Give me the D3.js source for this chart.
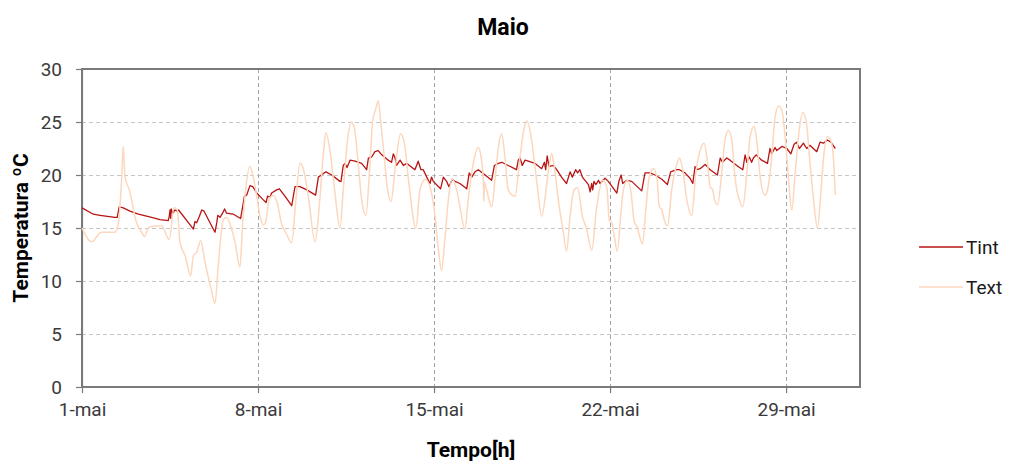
<!DOCTYPE html>
<html>
<head>
<meta charset="utf-8">
<script src="https://cdn.jsdelivr.net/npm/d3@7"></script>
<style>
  html, body { margin: 0; padding: 0; background: #fff; }
  svg { display: block; font-family: Roboto, "Liberation Sans", Arial, sans-serif; }
</style>
</head>
<body>
<svg id="chart" width="1011" height="465"></svg>
<script>
// Temperatures for May: [day offset from 1 May 00:00, °C]
const tintSeries = [
  [0.00,16.9],[0.45,16.3],[0.72,16.2],[1.31,16.0],[1.40,16.0],[1.48,17.0],[1.64,16.9],[1.91,16.6],
  [2.24,16.3],[2.77,16.0],[3.10,15.8],[3.43,15.7],[3.47,16.1],[3.50,16.7],[3.53,15.9],[3.55,16.8],
  [3.61,16.4],[3.70,16.7],[3.77,16.6],[3.84,16.7],[4.30,15.3],[4.43,14.9],[4.49,15.6],[4.56,15.5],
  [4.67,16.1],[4.76,16.7],[4.85,16.6],[5.09,15.5],[5.29,14.6],[5.36,15.5],[5.40,16.2],[5.49,16.0],
  [5.59,16.4],[5.67,16.8],[5.75,16.4],[6.02,16.3],[6.31,15.9],[6.46,18.0],[6.55,18.1],[6.62,18.6],
  [6.68,19.0],[6.79,18.9],[6.95,18.3],[7.19,17.7],[7.32,17.4],[7.38,18.0],[7.48,17.9],[7.54,18.3],
  [7.74,18.6],[7.85,18.7],[8.07,18.0],[8.34,17.1],[8.47,18.9],[8.67,18.9],[8.94,18.6],[9.29,18.1],
  [9.40,19.8],[9.70,20.3],[9.93,20.0],[10.26,19.4],[10.30,19.4],[10.39,20.9],[10.46,21.1],[10.54,20.7],
  [10.66,21.4],[10.86,21.3],[11.12,21.1],[11.32,20.5],[11.39,21.6],[11.52,21.7],[11.65,22.2],[11.78,22.3],
  [11.92,21.9],[12.18,21.4],[12.31,21.2],[12.38,22.0],[12.45,21.6],[12.51,20.9],[12.65,21.4],[12.78,20.9],
  [12.91,21.1],[13.24,20.5],[13.37,21.3],[13.48,20.5],[13.57,20.5],[13.71,19.8],[13.84,19.2],[13.90,19.8],
  [13.97,19.4],[14.26,18.7],[14.37,19.8],[14.50,19.4],[14.59,18.9],[14.73,19.6],[14.83,19.4],[15.03,19.2],
  [15.30,18.7],[15.40,20.2],[15.50,19.8],[15.63,20.3],[15.76,20.5],[16.03,20.0],[16.29,19.5],[16.40,20.9],
  [16.56,21.1],[16.69,21.2],[16.95,20.9],[17.28,20.5],[17.35,21.4],[17.42,21.6],[17.51,20.9],[17.62,21.4],
  [17.75,21.3],[18.01,21.1],[18.28,20.6],[18.39,21.2],[18.44,20.5],[18.50,21.8],[18.57,20.8],[18.74,20.9],
  [18.88,20.5],[19.07,19.8],[19.27,19.2],[19.41,20.3],[19.50,19.8],[19.63,20.5],[19.71,20.2],[19.80,20.5],
  [19.90,19.8],[20.14,19.1],[20.21,18.4],[20.27,19.2],[20.31,18.6],[20.36,19.4],[20.44,19.1],[20.54,19.5],
  [20.60,19.2],[20.80,19.7],[20.93,19.4],[21.27,18.3],[21.35,19.4],[21.44,20.0],[21.50,19.2],[21.66,19.5],
  [21.86,19.4],[22.26,18.5],[22.39,20.2],[22.59,20.2],[22.79,20.0],[23.06,19.6],[23.28,19.1],[23.41,20.3],
  [23.65,20.5],[23.76,20.5],[23.98,20.2],[24.18,19.7],[24.29,19.2],[24.38,20.8],[24.45,20.5],[24.58,20.6],
  [24.78,21.0],[24.98,20.5],[25.27,20.0],[25.38,21.6],[25.47,21.2],[25.64,21.6],[25.77,21.4],[26.04,20.9],
  [26.28,20.5],[26.37,21.9],[26.44,21.2],[26.54,21.7],[26.63,21.2],[26.70,21.6],[26.81,21.9],[27.03,21.4],
  [27.26,21.1],[27.36,22.5],[27.43,22.0],[27.56,22.6],[27.63,22.3],[27.83,22.7],[28.03,22.5],[28.19,22.0],
  [28.32,22.9],[28.42,23.1],[28.53,22.5],[28.69,23.0],[28.82,22.5],[28.95,22.8],[29.22,22.2],[29.35,23.1],
  [29.49,23.0],[29.64,23.3],[29.78,23.1],[29.96,22.5]
];

const textSeries = [
  [0.00,15.0],[0.38,13.7],[0.78,14.6],[1.31,14.6],[1.45,15.5],[1.58,19.8],[1.64,22.7],[1.71,19.8],
  [1.88,18.6],[2.17,15.5],[2.37,14.6],[2.48,14.2],[2.64,15.0],[2.90,15.2],[3.17,15.2],[3.47,13.9],
  [3.66,16.9],[3.79,16.7],[3.90,13.6],[4.10,12.4],[4.32,10.5],[4.43,12.4],[4.56,12.7],[4.72,13.8],
  [4.89,11.8],[5.13,9.3],[5.29,7.9],[5.42,11.5],[5.62,15.8],[5.75,16.0],[5.95,14.9],[6.09,13.6],
  [6.28,11.3],[6.39,15.5],[6.48,18.0],[6.68,20.8],[6.81,19.8],[6.95,18.0],[7.08,16.1],[7.21,15.3],
  [7.30,15.5],[7.45,17.8],[7.60,18.1],[7.75,17.5],[7.95,15.3],[8.10,14.6],[8.34,13.6],[8.50,17.5],
  [8.67,21.1],[8.80,20.6],[9.00,18.0],[9.27,13.7],[9.45,17.5],[9.60,22.0],[9.70,24.0],[9.85,22.5],
  [10.05,18.5],[10.26,15.0],[10.39,18.6],[10.56,23.3],[10.72,25.0],[10.83,24.5],[10.96,21.7],[11.12,17.7],
  [11.29,16.2],[11.43,20.2],[11.56,25.1],[11.68,26.2],[11.78,27.0],[11.89,24.8],[12.02,21.7],[12.14,18.8],
  [12.29,17.5],[12.45,20.5],[12.67,23.9],[12.82,23.0],[13.00,19.2],[13.28,15.0],[13.44,18.6],[13.64,19.6],
  [13.84,18.9],[14.04,16.1],[14.17,13.0],[14.30,11.0],[14.43,13.9],[14.57,17.7],[14.73,19.6],[14.90,18.6],
  [15.03,17.0],[15.23,14.9],[15.36,17.7],[15.56,21.1],[15.76,22.6],[15.87,21.7],[15.96,19.5],[15.98,17.5],
  [16.00,19.3],[16.09,18.6],[16.29,17.0],[16.45,20.2],[16.58,23.0],[16.69,23.9],[16.82,21.7],[16.95,18.6],
  [17.22,18.0],[17.42,21.7],[17.59,24.5],[17.70,25.1],[17.88,23.3],[18.08,19.5],[18.28,16.1],[18.54,20.2],
  [18.68,22.0],[18.78,20.8],[18.94,17.7],[19.14,14.6],[19.27,12.8],[19.41,16.1],[19.57,18.6],[19.71,18.8],
  [19.90,16.1],[20.07,14.9],[20.27,12.9],[20.47,17.0],[20.71,19.5],[20.87,18.9],[20.97,15.7],[21.07,15.5],
  [21.16,14.3],[21.29,12.8],[21.42,16.1],[21.53,18.6],[21.69,19.5],[21.82,18.6],[21.97,15.5],[22.06,15.2],
  [22.29,13.5],[22.42,16.7],[22.56,19.8],[22.72,20.6],[22.86,19.8],[22.96,17.0],[23.06,16.7],[23.15,15.8],
  [23.29,15.2],[23.45,18.6],[23.63,20.8],[23.76,21.6],[23.89,20.5],[24.05,17.7],[24.25,16.2],[24.41,20.2],
  [24.58,22.3],[24.74,23.0],[24.85,21.7],[24.98,18.9],[25.08,18.6],[25.15,17.7],[25.28,17.2],[25.44,20.2],
  [25.57,23.3],[25.71,24.2],[25.84,23.3],[25.97,19.8],[26.04,18.6],[26.10,18.0],[26.28,17.0],[26.44,20.2],
  [26.57,23.6],[26.73,24.6],[26.83,23.3],[26.97,19.8],[27.16,18.1],[27.23,18.3],[27.43,21.7],[27.56,25.4],
  [27.70,26.5],[27.83,26.1],[28.03,21.7],[28.13,18.6],[28.23,16.7],[28.36,20.2],[28.52,24.2],[28.66,25.9],
  [28.80,25.1],[28.93,21.7],[29.09,17.7],[29.25,15.0],[29.39,18.6],[29.52,22.3],[29.66,23.6],[29.82,22.9],
  [29.88,21.7],[29.96,18.1]
];

const dateTicks = [0, 7, 14, 21, 28];
const dateTickLabels = ["1-mai", "8-mai", "15-mai", "22-mai", "29-mai"];
const tempTicks = [0, 5, 10, 15, 20, 25, 30];
const seriesNames = ["Tint", "Text"];
const seriesColors = ["#b81414", "#fcd7bd"];

const svg = d3.select("#chart");
const plot = { left: 82, right: 860, top: 69, bottom: 387 };

const x = d3.scaleLinear().domain([0, 30.94]).range([plot.left, plot.right]);
const y = d3.scaleLinear().domain([0, 30]).range([plot.bottom, plot.top]);

// Horizontal gridlines
svg.append("g")
  .selectAll("line")
  .data(tempTicks.filter(t => t > 0 && t < 30))
  .join("line")
  .attr("x1", plot.left).attr("x2", plot.right)
  .attr("y1", d => y(d)).attr("y2", d => y(d))
  .attr("stroke", "#c6c6c6").attr("stroke-width", 1)
  .attr("stroke-dasharray", "4,3")
  .attr("shape-rendering", "crispEdges");

// Vertical gridlines
svg.append("g")
  .selectAll("line")
  .data(dateTicks.filter(t => t > 0))
  .join("line")
  .attr("x1", d => x(d)).attr("x2", d => x(d))
  .attr("y1", plot.top).attr("y2", plot.bottom)
  .attr("stroke", "#a3a3a3").attr("stroke-width", 1)
  .attr("stroke-dasharray", "4,3")
  .attr("shape-rendering", "crispEdges");

// Plot frame
svg.append("rect")
  .attr("x", plot.left).attr("y", plot.top)
  .attr("width", plot.right - plot.left).attr("height", plot.bottom - plot.top)
  .attr("fill", "none").attr("stroke", "#7a7a7a").attr("stroke-width", 1.2)
  .attr("shape-rendering", "crispEdges");

// Axes
const xAxis = d3.axisBottom(x)
  .tickValues(dateTicks)
  .tickFormat((d, i) => dateTickLabels[i])
  .tickSizeInner(6).tickSizeOuter(0).tickPadding(10);
const gx = svg.append("g").attr("transform", `translate(0,${plot.bottom})`).call(xAxis);

const yAxis = d3.axisLeft(y)
  .tickValues(tempTicks)
  .tickSizeInner(6).tickSizeOuter(0).tickPadding(14);
const gy = svg.append("g").attr("transform", `translate(${plot.left},0)`).call(yAxis);

[gx, gy].forEach(g => {
  g.select(".domain").attr("stroke", "#7a7a7a").attr("stroke-width", 1.2);
  g.selectAll(".tick line").attr("stroke", "#7a7a7a").attr("stroke-width", 1.2);
  g.selectAll(".tick text")
    .attr("fill", "#3a3a3a")
    .style("font-family", "Roboto, sans-serif")
    .style("font-size", "19px");
});

// Series lines
const line = d3.line().x(d => x(d[0])).y(d => y(d[1]));
const smoothLine = d3.line().x(d => x(d[0])).y(d => y(d[1])).curve(d3.curveMonotoneX);

svg.append("path")
  .datum(tintSeries)
  .attr("fill", "none")
  .attr("stroke", seriesColors[0])
  .attr("stroke-width", 1.3)
  .attr("stroke-linejoin", "round")
  .attr("d", line);

svg.append("path")
  .datum(textSeries)
  .attr("fill", "none")
  .attr("stroke", seriesColors[1])
  .attr("stroke-width", 1.5)
  .attr("stroke-linejoin", "round")
  .attr("d", smoothLine);

// Title
svg.append("text")
  .attr("x", 503).attr("y", 35)
  .attr("text-anchor", "middle")
  .style("font-family", "Roboto, sans-serif")
  .style("font-weight", "bold").style("font-size", "23px")
  .attr("fill", "#000")
  .text("Maio");

// Axis titles
svg.append("text")
  .attr("x", (plot.left + plot.right) / 2).attr("y", 457)
  .attr("text-anchor", "middle")
  .style("font-family", "Roboto, sans-serif")
  .style("font-weight", "bold").style("font-size", "21px")
  .attr("fill", "#000")
  .text("Tempo[h]");

svg.append("text")
  .attr("transform", `translate(28,${(plot.top + plot.bottom) / 2}) rotate(-90)`)
  .attr("text-anchor", "middle")
  .style("font-family", "Roboto, sans-serif")
  .style("font-weight", "bold").style("font-size", "21px")
  .attr("fill", "#000")
  .text("Temperatura ºC");

// Legend
const legend = svg.append("g")
  .selectAll("g")
  .data(seriesNames)
  .join("g")
  .attr("transform", (d, i) => `translate(919,${247 + i * 40})`);

legend.append("line")
  .attr("x1", 0).attr("x2", 44).attr("y1", 0).attr("y2", 0)
  .attr("stroke", (d, i) => seriesColors[i])
  .attr("stroke-width", 1.5);

legend.append("text")
  .attr("x", 47).attr("y", 7)
  .style("font-family", "Roboto, sans-serif")
  .style("font-size", "19px")
  .attr("fill", "#1a1a1a")
  .text(d => d);
</script>
</body>
</html>
